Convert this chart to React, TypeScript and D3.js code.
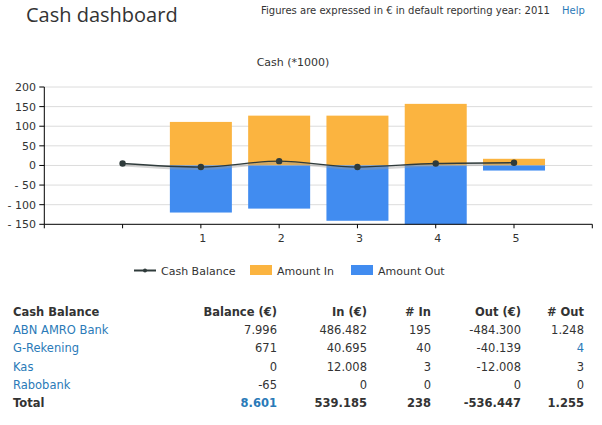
import React from "react";
import * as d3 from "d3";

const xLabels = ["", "1", "2", "3", "4", "5"];
const barLabels = ["1", "2", "3", "4", "5"];
const amountIn = [111, 127, 127, 157, 17];
const amountOut = [-120, -110, -141, -150, -13];
const cashBalance = [5, -4, 11, -4, 5, 7];
const yTicks = [200, 150, 100, 50, 0, -50, -100, -150];

const tableHeader = ["Cash Balance", "Balance (€)", "In (€)", "# In", "Out (€)", "# Out"];
const accounts = ["ABN AMRO Bank", "G-Rekening", "Kas", "Rabobank"];
const balances = ["7.996", "671", "0", "-65"];
const ins = ["486.482", "40.695", "12.008", "0"];
const inCounts = ["195", "40", "3", "0"];
const outs = ["-484.300", "-40.139", "-12.008", "0"];
const outCounts = ["1.248", "4", "3", "0"];
const totals = ["Total", "8.601", "539.185", "238", "-536.447", "1.255"];

const FONT = "'DejaVu Sans', Verdana, sans-serif";
const TXT = "#333";
const LINK = "#2a7ab8";
const ORANGE = "#fbb440";
const BLUE = "#418cf0";
const LINEC = "#2f3b3b";

export default function App() {
  const W = 602, H = 425;
  const x = d3.scaleLinear().domain([0, 7]).range([44.3, 592.3]);
  const y = d3.scaleLinear().domain([-150, 200]).range([224.3, 87]);
  const barW = 62;
  const line = d3.line<number>().x((_, i) => x(i + 1)).y((d) => y(d)).curve(d3.curveMonotoneX);
  const colRight = [0, 277, 367, 431, 521, 584];
  const rowY = [316, 334, 352, 371, 389, 407];
  const fmtY = (v: number) => (v < 0 ? "- " + Math.abs(v) : String(v));

  return (
    <svg width={W} height={H} style={{ position: "absolute", left: 0, top: 0, background: "#fff" }} fontFamily={FONT}>
      <text x={26} y={22} fontSize={20} fill={TXT} fontFamily="'Open Sans', sans-serif">Cash dashboard</text>
      <text x={261} y={14} fontSize={10} fill={TXT} textLength={289} lengthAdjust="spacingAndGlyphs">Figures are expressed in € in default reporting year: 2011</text>
      <text x={562} y={14} fontSize={10} fill={LINK}>Help</text>

      <text x={293} y={66} fontSize={11} fill={TXT} textAnchor="middle">Cash (*1000)</text>

      {yTicks.filter((t) => t > -150).map((t) => (
        <line key={"g" + t} x1={x(0)} x2={x(7)} y1={y(t)} y2={y(t)} stroke="#dcdcdc" strokeWidth={1} />
      ))}

      {barLabels.map((c, i) => (
        <rect key={"in" + c} x={x(i + 2) - barW / 2} width={barW} y={y(amountIn[i])} height={y(0) - y(amountIn[i])} fill={ORANGE} />
      ))}
      {barLabels.map((c, i) => (
        <rect key={"out" + c} x={x(i + 2) - barW / 2} width={barW} y={y(0)} height={y(amountOut[i]) - y(0)} fill={BLUE} />
      ))}

      <path d={line(cashBalance) || ""} fill="none" stroke="#999" strokeOpacity={0.4} strokeWidth={3} transform="translate(1,1.5)" />
      <path d={line(cashBalance) || ""} fill="none" stroke={LINEC} strokeWidth={1.3} />
      {cashBalance.map((v, i) => (
        <circle key={"p" + i} cx={x(i + 1)} cy={y(v)} r={3.2} fill={LINEC} />
      ))}

      <line x1={x(0)} x2={x(0)} y1={y(200)} y2={y(-150)} stroke="#000" strokeWidth={1} />
      <line x1={x(0)} x2={x(7)} y1={y(-150)} y2={y(-150)} stroke="#000" strokeWidth={1} />
      {yTicks.map((t) => (
        <g key={"yt" + t}>
          <line x1={x(0) - 5} x2={x(0)} y1={y(t)} y2={y(t)} stroke="#000" />
          <text x={36} y={y(t) + 4} fontSize={11} fill={TXT} textAnchor="end">{fmtY(t)}</text>
        </g>
      ))}
      {d3.range(0, 8).map((i) => (
        <line key={"xt" + i} x1={x(i)} x2={x(i)} y1={y(-150)} y2={y(-150) + 4} stroke="#000" />
      ))}
      {xLabels.map((l, i) => (
        <text key={"xl" + i} x={x(i + 1) + 2} y={242} fontSize={11} fill={TXT} textAnchor="middle">{l}</text>
      ))}

      <g fontSize={11} fill={TXT}>
        <line x1={134} x2={156} y1={270.5} y2={270.5} stroke={LINEC} strokeWidth={2} />
        <circle cx={145} cy={270.5} r={2} fill={LINEC} />
        <text x={161} y={274.5}>Cash Balance</text>
        <rect x={250} y={265} width={22} height={10} fill={ORANGE} />
        <text x={277} y={274.5}>Amount In</text>
        <rect x={351} y={265} width={22} height={10} fill={BLUE} />
        <text x={378} y={274.5}>Amount Out</text>
      </g>

      <g fontSize={11.5}>
        {tableHeader.map((h, j) => (
          <text key={"h" + j} x={j === 0 ? 13 : colRight[j]} y={rowY[0]} fontWeight="bold" fill={TXT} textAnchor={j === 0 ? "start" : "end"}>{h}</text>
        ))}
        {accounts.map((a, i) => {
          const vals = [balances[i], ins[i], inCounts[i], outs[i], outCounts[i]];
          return (
            <g key={"r" + i}>
              <text x={13} y={rowY[i + 1]} fill={LINK}>{a}</text>
              {vals.map((v, j) => (
                <text key={j} x={colRight[j + 1]} y={rowY[i + 1]} textAnchor="end" fill={i === 1 && j === 4 ? LINK : TXT}>{v}</text>
              ))}
            </g>
          );
        })}
        {totals.map((t, j) => (
          <text key={"t" + j} x={j === 0 ? 13 : colRight[j]} y={rowY[5]} fontWeight="bold" fill={j === 1 ? LINK : TXT} textAnchor={j === 0 ? "start" : "end"}>{t}</text>
        ))}
      </g>
    </svg>
  );
}
